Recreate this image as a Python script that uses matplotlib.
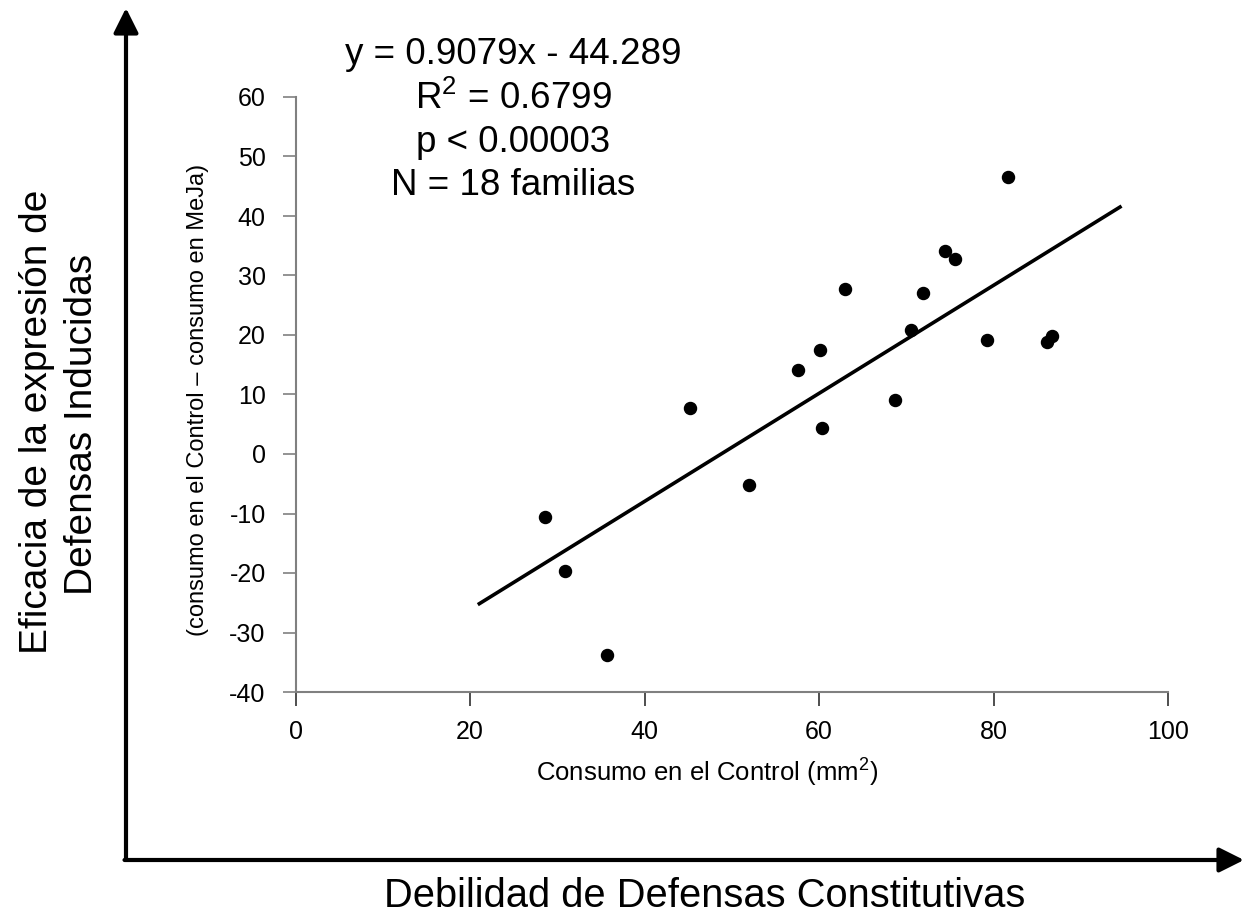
import matplotlib
matplotlib.use("Agg")
import matplotlib.pyplot as plt
from matplotlib import font_manager
import numpy as np

# ---- data ----
consumo_control = [28.6, 30.9, 35.7, 45.2, 52.0, 57.6, 60.1, 60.3, 63.0, 68.7,
                   70.5, 71.9, 74.4, 75.6, 79.2, 81.7, 86.1, 86.7]
eficacia = [-10.6, -19.6, -33.7, 7.8, -5.2, 14.1, 17.4, 4.4, 27.8, 9.1,
            20.8, 27.1, 34.2, 32.8, 19.1, 46.6, 18.8, 19.8]
slope = 0.9079
intercept = -44.289
fit_x = [21.07, 94.5]
x_ticks = [0, 20, 40, 60, 80, 100]
y_ticks = [-40, -30, -20, -10, 0, 10, 20, 30, 40, 50, 60]
stats_lines = ["y = 0.9079x - 44.289", "R$^2$ = 0.6799", "p < 0.00003", "N = 18 familias"]

names = {f.name for f in font_manager.fontManager.ttflist}
regular = ["Liberation Sans", "DejaVu Sans"]
narrow = (["Liberation Sans Narrow"] if "Liberation Sans Narrow" in names else []) + regular
plt.rcParams['font.family'] = regular
plt.rcParams['axes.unicode_minus'] = False
plt.rcParams['mathtext.fontset'] = 'custom'
plt.rcParams['mathtext.rm'] = 'Liberation Sans'

W, H = 1256, 924
fig = plt.figure(figsize=(W / 100, H / 100), dpi=100)

# overlay in pixel coordinates for arrows & free text
ov = fig.add_axes([0, 0, 1, 1], zorder=0)
ov.set_xlim(0, W)
ov.set_ylim(H, 0)
ov.axis('off')
ov.patch.set_visible(False)

ax_w = 1168 - 295.5
ax_h = 692 - 97
ax = fig.add_axes([295.5 / W, 1 - 692 / H, ax_w / W, ax_h / H], zorder=1)
ax.patch.set_visible(False)
ax.set_xlim(0, 100)
ax.set_ylim(-40, 60)
ax.set_xticks(x_ticks)
ax.set_yticks(y_ticks)
for s in ['top', 'right']:
    ax.spines[s].set_visible(False)
for s in ['left', 'bottom']:
    ax.spines[s].set_color('#808080')
    ax.spines[s].set_linewidth(1.5)
ax.tick_params(axis='y', direction='out', length=9.5, width=1.2, color='#808080', labelsize=18, pad=12)
ax.tick_params(axis='x', direction='out', length=10, width=1.2, color='#303030', labelsize=18, pad=10)

ax.scatter(consumo_control, eficacia, s=75, color='black', zorder=3, clip_on=False)
fx = np.array(fit_x)
ax.plot(fx, slope * fx + intercept, color='black', lw=2.6, zorder=2)

ax.set_xlabel("Consumo en el Control (mm$^2$)", family=narrow, fontsize=18.5, va='center')
ax.xaxis.set_label_coords((707 - 295.5) / ax_w, (692 - 772) / ax_h)
ax.set_ylabel("(consumo en el Control – consumo en MeJa)", family=narrow, fontsize=17, va='center')
ax.yaxis.set_label_coords((198 - 295.5) / ax_w, (692 - 400) / ax_h)

# stats text
for i, t in enumerate(stats_lines):
    ov.text(513, 55 + i * 43.5, t, ha='center', va='center', fontsize=26.5)

# big conceptual axes with arrows
ov.annotate('', xy=(126, 8), xytext=(126, 860),
            arrowprops=dict(arrowstyle='-|>,head_length=0.5,head_width=0.25', lw=3, color='black',
                            mutation_scale=30, shrinkA=0, shrinkB=0))
ov.annotate('', xy=(1244, 860), xytext=(124.5, 860),
            arrowprops=dict(arrowstyle='-|>,head_length=0.5,head_width=0.25', lw=3, color='black',
                            mutation_scale=30, shrinkA=0, shrinkB=0))

ov.text(705, 896, "Debilidad de Defensas Constitutivas", ha='center', va='center', fontsize=28.7)
ov.text(37, 422, "Eficacia de la expresión de", ha='center', va='center', rotation=90, fontsize=28)
ov.text(82, 424, "Defensas Inducidas", ha='center', va='center', rotation=90, fontsize=28)

fig.savefig("out.png", dpi=100)
